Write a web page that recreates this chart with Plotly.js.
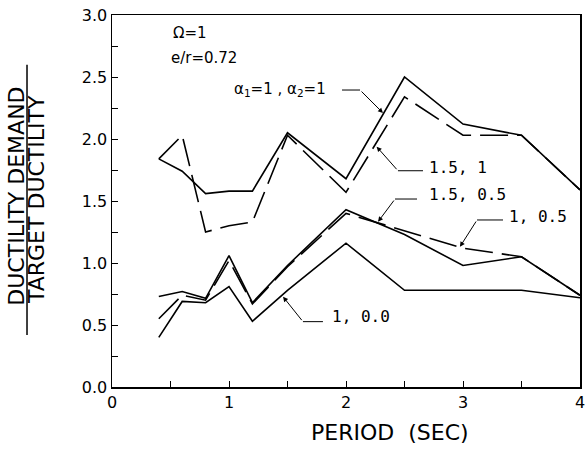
<!DOCTYPE html>
<html><head><meta charset="utf-8">
<script src="https://cdn.plot.ly/plotly-3.0.1.min.js"></script>
<style>body{margin:0;background:#fff}</style>
</head><body><div id="chart" style="width:586px;height:449px"></div>
<script>
// Data
const periods = [0.4, 0.6, 0.8, 1.0, 1.2, 1.5, 2.0, 2.5, 3.0, 3.5, 4.0];
const a1_1_a2_1   = [1.84, 1.74, 1.56, 1.58, 1.58, 2.05, 1.68, 2.50, 2.12, 2.03, 1.59];
const a1_15_a2_1  = [1.84, 2.03, 1.25, 1.30, 1.33, 2.03, 1.57, 2.34, 2.03, 2.03, 1.59];
const a1_15_a2_05 = [0.73, 0.77, 0.715, 1.06, 0.68, 0.98, 1.43, 1.23, 0.98, 1.05, 0.74];
const a1_1_a2_05  = [0.55, 0.74, 0.70, 1.02, 0.67, 0.97, 1.40, 1.26, 1.12, 1.05, 0.74];
const a1_1_a2_0   = [0.40, 0.69, 0.68, 0.81, 0.53, 0.78, 1.16, 0.78, 0.78, 0.78, 0.72];
const xTickVals = [0, 1, 2, 3, 4];
const xTickText = ['0', '1', '2', '3', '4'];
const yTickVals = [0, 0.5, 1.0, 1.5, 2.0, 2.5, 3.0];
const yTickText = ['0.0', '0.5', '1.0', '1.5', '2.0', '2.5', '3.0'];

const seriesList = [
  {name: 'α1=1, α2=1', y: a1_1_a2_1, dash: 'solid'},
  {name: '1.5, 1', y: a1_15_a2_1, dash: '28px,9px'},
  {name: '1.5, 0.5', y: a1_15_a2_05, dash: 'solid'},
  {name: '1, 0.5', y: a1_1_a2_05, dash: '28px,9px'},
  {name: '1, 0.0', y: a1_1_a2_0, dash: 'solid'}
];
const traces = seriesList.map(s => ({
  x: periods, y: s.y, name: s.name, type: 'scatter', mode: 'lines',
  line: {color: '#000', width: 1.6, dash: s.dash}
}));

const font = 'DejaVu Sans, sans-serif';
const mono = 'DejaVu Sans Mono, monospace';

// leader labels: text position, elbow, arrow tip (data units)
const labels = [
  {text: 'α<sub>1</sub>=1 , α<sub>2</sub>=1', tx: 1.436, ty: 2.40, anchor: 'center', f: font, size: 15,
   h0: 1.966, h1: 2.12, hy: 2.395, tipx: 2.316, tipy: 2.21, tailx: 2.12},
  {text: '1.5, 1', tx: 2.69, ty: 1.774, anchor: 'left', f: mono, size: 16,
   h0: 2.444, h1: 2.658, hy: 1.744, tipx: 2.262, tipy: 1.938, tailx: 2.444},
  {text: '1.5, 0.5', tx: 2.69, ty: 1.556, anchor: 'left', f: mono, size: 16,
   h0: 2.419, h1: 2.607, hy: 1.516, tipx: 2.274, tipy: 1.333, tailx: 2.419},
  {text: '1, 0.5', tx: 3.376, ty: 1.373, anchor: 'left', f: mono, size: 16,
   h0: 3.12, h1: 3.342, hy: 1.347, tipx: 2.974, tipy: 1.131, tailx: 3.12},
  {text: '1, 0.0', tx: 1.863, ty: 0.567, anchor: 'left', f: mono, size: 16,
   h0: 1.632, h1: 1.803, hy: 0.527, tipx: 1.462, tipy: 0.728, tailx: 1.632}
];

const annotations = [];
const shapes = [];
labels.forEach(l => {
  annotations.push({x: l.tx, y: l.ty, xref: 'x', yref: 'y', text: l.text, showarrow: false,
    xanchor: l.anchor, yanchor: 'middle', font: {family: l.f, size: l.size, color: '#000'}});
  annotations.push({x: l.tipx, y: l.tipy, xref: 'x', yref: 'y', ax: l.tailx, ay: l.hy,
    axref: 'x', ayref: 'y', text: '', showarrow: true, arrowhead: 2, arrowsize: 1,
    arrowwidth: 1, arrowcolor: '#000'});
  shapes.push({type: 'line', xref: 'x', yref: 'y', x0: l.h0, x1: l.h1, y0: l.hy, y1: l.hy,
    line: {color: '#000', width: 1}});
});

annotations.push({x: 0.50, y: 2.855, xref: 'x', yref: 'y', text: 'Ω=1', showarrow: false,
  xanchor: 'left', yanchor: 'middle', font: {family: font, size: 15, color: '#000'}});
annotations.push({x: 0.49, y: 2.65, xref: 'x', yref: 'y', text: 'e/r=0.72', showarrow: false,
  xanchor: 'left', yanchor: 'middle', font: {family: font, size: 15, color: '#000'}});

// Axis titles
annotations.push({x: -0.204, y: 0.513, xref: 'paper', yref: 'paper', text: 'DUCTILITY DEMAND',
  textangle: -90, showarrow: false, xanchor: 'center', yanchor: 'middle',
  font: {family: font, size: 22, color: '#000'}});
annotations.push({x: -0.160, y: 0.503, xref: 'paper', yref: 'paper', text: 'TARGET DUCTILITY',
  textangle: -90, showarrow: false, xanchor: 'center', yanchor: 'middle',
  font: {family: font, size: 22, color: '#000'}});
shapes.push({type: 'line', xref: 'paper', yref: 'paper', x0: -0.1816, x1: -0.1816, y0: 0.14, y1: 0.866,
  line: {color: '#000', width: 1.5}});
annotations.push({x: 0.594, y: -0.121, xref: 'paper', yref: 'paper', text: 'PERIOD  (SEC)',
  showarrow: false, xanchor: 'center', yanchor: 'middle',
  font: {family: font, size: 22, color: '#000'}});

const layout = {
  width: 586, height: 449,
  margin: {l: 112, r: 6, t: 15, b: 62},
  paper_bgcolor: '#fff', plot_bgcolor: '#fff',
  showlegend: false,
  font: {family: font, color: '#000'},
  xaxis: {range: [0, 4], tickvals: xTickVals, ticktext: xTickText, ticks: 'inside', ticklen: 6,
    tickcolor: '#000', showgrid: false, zeroline: false, showline: true, linecolor: '#000',
    linewidth: 1.5, mirror: true, tickfont: {size: 16, family: font},
    minor: {dtick: 0.5, ticks: 'inside', ticklen: 6, tickcolor: '#000', showgrid: false}},
  yaxis: {range: [0, 3], tickvals: yTickVals, ticktext: yTickText, ticks: 'inside', ticklen: 6,
    tickcolor: '#000', showgrid: false, zeroline: false, showline: true, linecolor: '#000',
    linewidth: 1.5, mirror: true, tickfont: {size: 16, family: font},
    minor: {dtick: 0.25, ticks: 'inside', ticklen: 6, tickcolor: '#000', showgrid: false}},
  annotations: annotations,
  shapes: shapes
};

Plotly.newPlot('chart', traces, layout, {displayModeBar: false, staticPlot: true});
</script></body></html>
